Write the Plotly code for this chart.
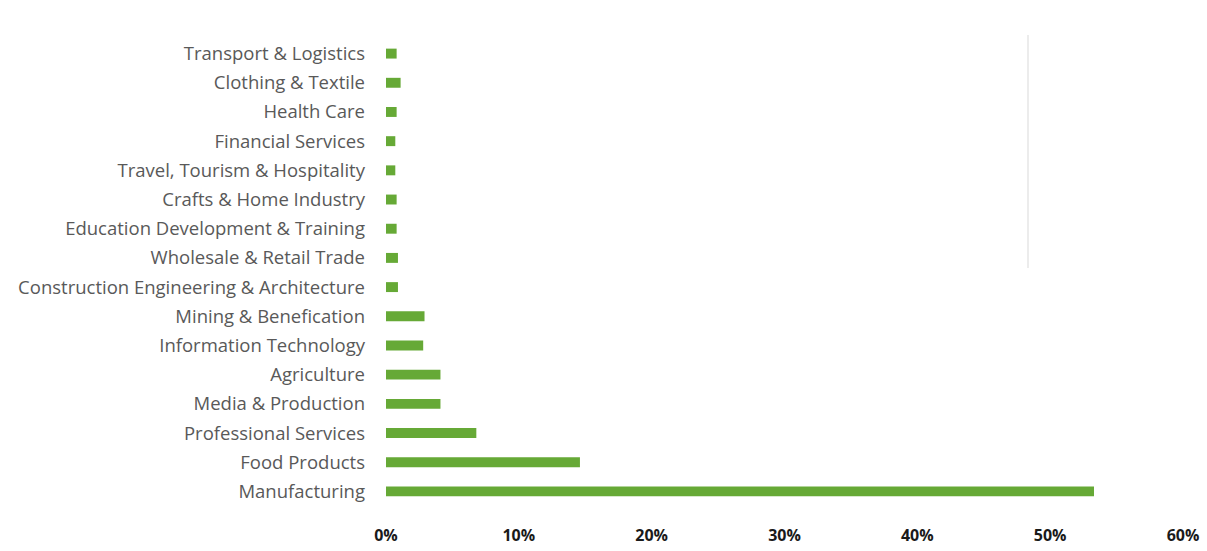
import plotly.graph_objects as go

# Sectors listed bottom-to-top as they appear on the y axis
sectors = [
    "Manufacturing",
    "Food Products",
    "Professional Services",
    "Media & Production",
    "Agriculture",
    "Information Technology",
    "Mining & Benefication",
    "Construction Engineering & Architecture",
    "Wholesale & Retail Trade",
    "Education Development & Training",
    "Crafts & Home Industry",
    "Travel, Tourism & Hospitality",
    "Financial Services",
    "Health Care",
    "Clothing & Textile",
    "Transport & Logistics",
]

# Share of respondents per sector (fraction)
shares = [
    0.533, 0.146, 0.068, 0.041, 0.041, 0.028, 0.029, 0.009,
    0.009, 0.008, 0.008, 0.007, 0.007, 0.008, 0.011, 0.008,
]

x_ticks = [0, 0.1, 0.2, 0.3, 0.4, 0.5, 0.6]

fig = go.Figure(
    go.Bar(
        x=shares,
        y=sectors,
        orientation="h",
        marker=dict(color="#66a936", line=dict(width=0)),
        hoverinfo="x+y",
    )
)

fig.update_layout(
    width=1207,
    height=551,
    margin=dict(l=386, r=24, t=39, b=45),
    paper_bgcolor="white",
    plot_bgcolor="white",
    bargap=0.66,
    showlegend=False,
    font=dict(family="'Open Sans', Lato, sans-serif", color="#595959"),
    xaxis=dict(
        range=[0, 0.6],
        tickvals=x_ticks,
        tickformat=".0%",
        showgrid=False,
        zeroline=False,
        showline=False,
        automargin=False,
        tickfont=dict(size=16, color="#1a1a1a", family="'Open Sans', sans-serif", weight="bold"),
        ticklabelstandoff=18,
        fixedrange=True,
    ),
    yaxis=dict(
        categoryorder="array",
        categoryarray=sectors,
        showgrid=False,
        zeroline=False,
        showline=False,
        automargin=False,
        tickfont=dict(size=18.5, color="#595959"),
        ticklabelstandoff=20,
        fixedrange=True,
    ),
    shapes=[
        dict(
            type="line",
            xref="paper",
            yref="paper",
            x0=(1028 - 386) / (1207 - 386 - 24),
            x1=(1028 - 386) / (1207 - 386 - 24),
            y0=(506 - 268) / (506 - 39),
            y1=(506 - 35) / (506 - 39),
            line=dict(color="#e6e6e6", width=1.5),
            layer="below",
        )
    ],
)

fig.write_html("out.html")
